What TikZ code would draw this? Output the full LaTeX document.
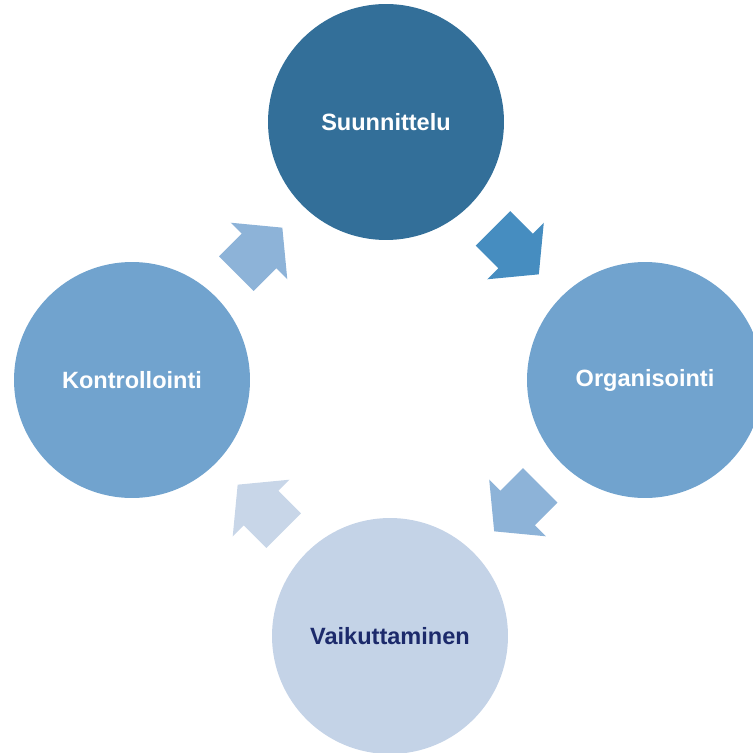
\documentclass[tikz,border=0pt]{standalone}
\usepackage{fontspec}
\setmainfont{Liberation Sans}
\usetikzlibrary{calc}
\definecolor{planfill}{HTML}{336F99}
\definecolor{midfill}{HTML}{71A3CE}
\definecolor{lightfill}{HTML}{C4D3E7}
\definecolor{navytext}{HTML}{1C2A6B}
\definecolor{turnA}{HTML}{468DC0}
\definecolor{turnB}{HTML}{8DB3D8}
\definecolor{turnC}{HTML}{C8D6E8}

\begin{document}
\begin{tikzpicture}[x=0.02cm, y=-0.02cm,
  phase/.style={circle, minimum size=4.72cm, inner sep=0pt, text=white,
    font=\bfseries\fontsize{13.4}{16}\selectfont},
  turnarrow/.pic={
    \fill (-32,-24.4) -- (0,-24.4) -- (0,-40) -- (33,0) -- (0,40)
      -- (0,24.4) -- (-32,24.4) -- cycle;
  },
  ]
  \useasboundingbox (0,0) rectangle (753,753);
  \clip (0,0) rectangle (753,753);

  \node[phase, fill=planfill] (plan) at (386,122) {Suunnittelu};
  \node[phase, fill=midfill] (org) at (645,380) {Organisointi};
  \node[phase, fill=lightfill, text=navytext] (act) at (390,636) {Vaikuttaminen};
  \node[phase, fill=midfill] (ctrl) at (132,380) {Kontrollointi};

  % arrows round the cycle
  \pic[rotate=-45, fill=turnA] (t1) at ($(plan)!0.5!(org)$) {turnarrow};
  \pic[rotate=-135, fill=turnB] (t2) at ($(org)!0.5!(act)$) {turnarrow};
  \pic[rotate=135, fill=turnC] (t3) at ($(act)!0.5!(ctrl)$) {turnarrow};
  \pic[rotate=45, fill=turnB] (t4) at ($(ctrl)!0.5!(plan)$) {turnarrow};
\end{tikzpicture}
\end{document}
